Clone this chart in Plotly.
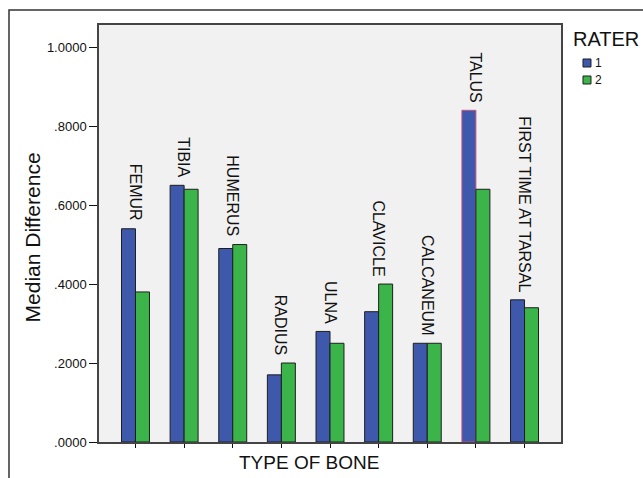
import plotly.graph_objects as go

bones = ["FEMUR", "TIBIA", "HUMERUS", "RADIUS", "ULNA", "CLAVICLE",
         "CALCANEUM", "TALUS", "FIRST TIME AT TARSAL"]
rater1 = [0.54, 0.65, 0.49, 0.17, 0.28, 0.33, 0.25, 0.84, 0.36]
rater2 = [0.38, 0.64, 0.50, 0.20, 0.25, 0.40, 0.25, 0.64, 0.34]
ytick_vals = [0.0, 0.2, 0.4, 0.6, 0.8, 1.0]
ytick_text = [".0000", ".2000", ".4000", ".6000", ".8000", "1.0000"]

FONT = "Liberation Sans, Arial, sans-serif"
BLUE = "#3e58ac"
GREEN = "#3bb54a"
EDGE = "#1e1e1e"

edge1 = [EDGE] * len(bones)
edge1[bones.index("TALUS")] = "#c8507a"

fig = go.Figure()
fig.add_trace(go.Bar(name="1", x=bones, y=rater1, showlegend=False,
                     marker=dict(color=BLUE, line=dict(color=edge1, width=1))))
fig.add_trace(go.Bar(name="2", x=bones, y=rater2, showlegend=False,
                     marker=dict(color=GREEN, line=dict(color=EDGE, width=1))))

annotations = []
for b, v1, v2 in zip(bones, rater1, rater2):
    annotations.append(dict(x=b, y=max(v1, v2), xref="x", yref="y", text=b,
                            textangle=90, showarrow=False, yanchor="bottom",
                            xanchor="center", yshift=6,
                            font=dict(family=FONT, size=16, color="#111")))
annotations.append(dict(x=0.4545, y=-0.050, xref="paper", yref="paper",
                        text="TYPE OF BONE", showarrow=False,
                        xanchor="center", yanchor="middle",
                        font=dict(family=FONT, size=19, color="#111")))
annotations.append(dict(x=-0.144, y=0.4916, xref="paper", yref="paper",
                        text="Median Difference", showarrow=False, textangle=-90,
                        xanchor="center", yanchor="middle",
                        font=dict(family=FONT, size=21, color="#111")))
# legend (drawn manually to match the small swatches)
annotations.append(dict(x=1.021, y=0.9676, xref="paper", yref="paper",
                        text="RATER", showarrow=False, xanchor="left", yanchor="middle",
                        font=dict(family=FONT, size=20, color="#111")))
annotations.append(dict(x=1.070, y=0.9089, xref="paper", yref="paper",
                        text="1", showarrow=False, xanchor="left", yanchor="middle",
                        font=dict(family=FONT, size=12, color="#111")))
annotations.append(dict(x=1.070, y=0.8681, xref="paper", yref="paper",
                        text="2", showarrow=False, xanchor="left", yanchor="middle",
                        font=dict(family=FONT, size=12, color="#111")))

shapes = [dict(type="rect", xref="paper", yref="paper",
               x0=-0.1948, y0=-0.5, x1=1.5, y1=1.036,
               line=dict(color="#333", width=1.5), layer="below"),
          dict(type="rect", xref="paper", yref="paper",
               x0=1.0476, x1=1.0649, y0=0.8993, y1=0.9185,
               fillcolor=BLUE, line=dict(color=EDGE, width=1)),
          dict(type="rect", xref="paper", yref="paper",
               x0=1.0476, x1=1.0649, y0=0.8585, y1=0.8777,
               fillcolor=GREEN, line=dict(color=EDGE, width=1))]

fig.update_layout(
    width=643, height=478,
    margin=dict(l=99, r=82, t=25, b=36, autoexpand=False),
    paper_bgcolor="white",
    plot_bgcolor="#f1f1f1",
    barmode="group",
    bargap=0.425,
    bargroupgap=0,
    font=dict(family=FONT, color="#111"),
    annotations=annotations,
    showlegend=False,
    shapes=shapes,
)
fig.update_xaxes(type="category", range=[-0.75, 8.75], showticklabels=False,
                 ticks="outside", ticklen=4, tickcolor="#111",
                 showline=True, linecolor="#444", linewidth=1.5, mirror=True,
                 showgrid=False, zeroline=False)
fig.update_yaxes(range=[0, 1.056], tickvals=ytick_vals, ticktext=ytick_text,
                 ticks="outside", ticklen=8, tickcolor="#111",
                 tickfont=dict(family=FONT, size=13, color="#111"),
                 showline=True, linecolor="#444", linewidth=1.5, mirror=True,
                 showgrid=False, zeroline=False)

fig.write_html("out.html", config={"displayModeBar": False},
               post_script="document.body.style.margin='0';")
